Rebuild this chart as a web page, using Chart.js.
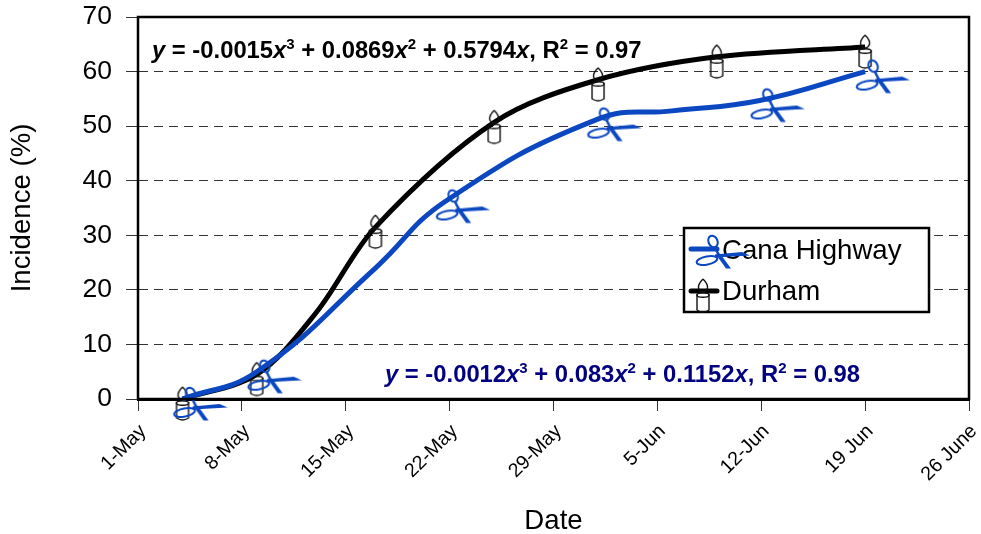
<!DOCTYPE html>
<html>
<head>
<meta charset="utf-8">
<script src="https://cdn.jsdelivr.net/npm/chart.js@4"></script>
<style>
body { margin: 0; background: #fff; font-family: "Liberation Sans", Arial, sans-serif; }
#wrap { position: relative; width: 981px; height: 534px; overflow: hidden; }
.eq { position: absolute; font-weight: bold; font-size: 23.8px; white-space: nowrap; line-height: 26px; }
.eq sup { font-size: 15px; line-height: 0; }
</style>
</head>
<body>
<div id="wrap">
<canvas id="chart" width="984" height="534"></canvas>
<div class="eq" style="left:152px;top:37px;color:#000"><i>y</i> = -0.0015<i>x</i><sup>3</sup> + 0.0869<i>x</i><sup>2</sup> + 0.5794<i>x</i>, R<sup>2</sup> = 0.97</div>
<div class="eq" style="left:385px;top:361px;color:#000080"><i>y</i> = -0.0012<i>x</i><sup>3</sup> + 0.083<i>x</i><sup>2</sup> + 0.1152<i>x</i>, R<sup>2</sup> = 0.98</div>
</div>
<script>
// days since 1 May
const canaDays = [3, 8, 16, 20.7, 30.9, 36, 41.9, 49];
const canaValues = [0, 5, 24, 36.2, 51.2, 52.8, 54.7, 60];
const canaNoMarker = [16, 36]; // curve readings where the picture has no scissors
const durhamDays = [3, 8, 12, 16, 24, 31, 39, 49];
const durhamValues = [0, 4.5, 15.8, 31.5, 50.7, 58.5, 62.7, 64.5];
const durhamNoMarker = [12];
const dateLabels = ['1-May', '8-May', '15-May', '22-May', '29-May', '5-Jun', '12-Jun', '19 Jun', '26 June'];

const BLUE = '#0b47c0';
const FONT = '"Liberation Sans", Arial, sans-serif';

function scissorsMarker() {
    const c = document.createElement('canvas');
    c.width = 120; c.height = 80;
    const g = c.getContext('2d');
    g.translate(60 + 13, 40 + 8.5);
    g.strokeStyle = BLUE; g.fillStyle = BLUE; g.lineWidth = 2;
    // blades
    g.beginPath(); g.moveTo(-3, -1); g.lineTo(24, -3.5); g.lineTo(32, 0); g.lineTo(-3, 2); g.closePath(); g.fill();
    g.beginPath(); g.moveTo(-2, -1); g.lineTo(2, -2); g.lineTo(13, 13); g.lineTo(8, 13); g.closePath(); g.fill();
    // handles
    g.beginPath(); g.ellipse(-11, 5, 10.5, 4, -0.2, 0, Math.PI * 2); g.stroke();
    g.beginPath(); g.ellipse(-5, -14, 4.5, 6, -0.4, 0, Math.PI * 2); g.stroke();
    g.lineWidth = 2.5;
    g.beginPath(); g.moveTo(-3, -8); g.lineTo(1, 0); g.stroke();
    return c;
}

function candleMarker() {
    const c = document.createElement('canvas');
    c.width = 40; c.height = 60;
    const g = c.getContext('2d');
    g.translate(20, 30);
    g.strokeStyle = '#111'; g.lineWidth = 1.4; g.fillStyle = '#fff';
    // body
    g.beginPath(); g.moveTo(-6, 3); g.lineTo(-6, 19); g.quadraticCurveTo(0, 23, 6, 19); g.lineTo(6, 3); g.stroke();
    g.beginPath(); g.ellipse(0, 4, 6, 2.2, 0, 0, Math.PI * 2); g.stroke();
    // flame
    g.beginPath(); g.moveTo(0, -12); g.quadraticCurveTo(5, -7, 4.5, -3); g.quadraticCurveTo(3, 1, 0, 1);
    g.quadraticCurveTo(-3, 1, -4.5, -3); g.quadraticCurveTo(-5, -7, 0, -12); g.stroke();
    return c;
}

const scissors = scissorsMarker();
const candle = candleMarker();

const framePlugin = {
    id: 'frame',
    afterDatasetsDraw(chart) {
        const { ctx, chartArea: a } = chart;
        ctx.save();
        ctx.strokeStyle = '#000';
        ctx.lineWidth = 2.5;
        ctx.strokeRect(a.left, a.top, a.right - a.left, a.bottom - a.top);
        // legend box
        ctx.fillStyle = '#fff';
        ctx.fillRect(684, 228, 245, 84);
        ctx.strokeRect(684, 228, 245, 84);
        ctx.fillStyle = '#000';
        ctx.font = '27.6px ' + FONT;
        ctx.textBaseline = 'alphabetic';
        ctx.fillText('Cana Highway', 722, 259);
        ctx.fillText('Durham', 722, 300);
        ctx.lineWidth = 5;
        ctx.lineCap = 'round';
        ctx.strokeStyle = '#000';
        ctx.beginPath(); ctx.moveTo(691, 291); ctx.lineTo(717, 291); ctx.stroke();
        ctx.drawImage(candle, 703 - 20, 291 - 30);
        ctx.strokeStyle = BLUE;
        ctx.beginPath(); ctx.moveTo(691, 249); ctx.lineTo(717, 249); ctx.stroke();
        ctx.drawImage(scissors, 705 - 60, 247 - 40);
        ctx.restore();
    }
};

new Chart(document.getElementById('chart'), {
    type: 'line',
    data: {
        datasets: [
            {
                label: 'Cana Highway',
                data: canaDays.map((d, i) => ({ x: d, y: canaValues[i] })),
                borderColor: BLUE, borderWidth: 5, tension: 0.45, clip: false,
                pointStyle: scissors,
                pointRadius: canaDays.map(d => canaNoMarker.includes(d) ? 0 : 10)
            },
            {
                label: 'Durham',
                data: durhamDays.map((d, i) => ({ x: d, y: durhamValues[i] })),
                borderColor: '#000', borderWidth: 5, tension: 0.33, clip: false,
                pointStyle: candle,
                pointRadius: durhamDays.map(d => durhamNoMarker.includes(d) ? 0 : 10)
            }
        ]
    },
    options: {
        responsive: false,
        animation: false,
        layout: { padding: { top: 17, right: 11, left: 0, bottom: 0 } },
        plugins: { legend: { display: false }, tooltip: { enabled: false } },
        scales: {
            x: {
                type: 'linear', min: 0, max: 56,
                afterFit(scale) { scale.height = 135; scale.paddingRight = 0; scale.paddingLeft = 0; },
                afterBuildTicks(scale) { scale.ticks = dateLabels.map((_, i) => ({ value: i * 7 })); },
                grid: { drawOnChartArea: false, drawTicks: true, tickLength: 12, tickColor: '#333', tickWidth: 1 },
                border: { color: '#000', width: 3 },
                ticks: {
                    autoSkip: false, minRotation: 45, maxRotation: 45, padding: 9, labelOffset: 5,
                    color: '#000', font: { family: FONT, size: 19.6 },
                    callback: v => dateLabels[v / 7]
                },
                title: { display: true, text: 'Date', color: '#000', font: { family: FONT, size: 27.6 }, padding: { top: 0, bottom: -4 } }
            },
            y: {
                min: 0, max: 70,
                afterFit(scale) { scale.width = 138; scale.paddingTop = 0; scale.paddingBottom = 0; },
                ticks: { stepSize: 10, color: '#000', padding: 14, font: { family: FONT, size: 26.5 } },
                grid: { color: '#333', lineWidth: 1, tickLength: 12, tickColor: '#333', tickBorderDash: [] },
                border: { color: '#000', width: 2, dash: [9, 6] },
                title: { display: true, text: 'Incidence (%)', color: '#000', font: { family: FONT, size: 27.6 }, padding: { top: 6, bottom: 0 } }
            }
        }
    },
    plugins: [framePlugin]
});
</script>
</body>
</html>
